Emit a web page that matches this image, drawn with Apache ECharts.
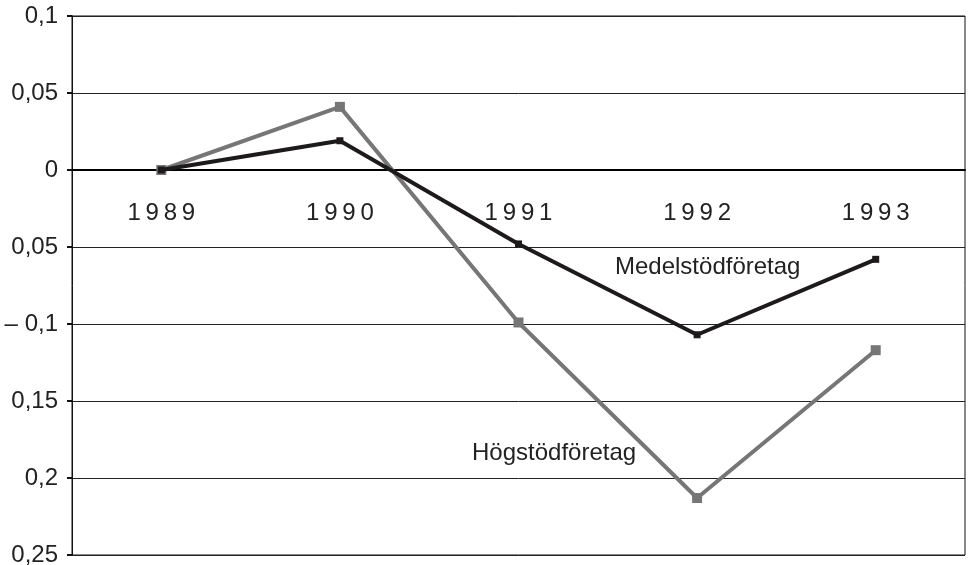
<!DOCTYPE html>
<html>
<head>
<meta charset="UTF-8" />
<title></title>
<script src="https://cdn.jsdelivr.net/npm/echarts@6/dist/echarts.min.js"></script>
<style>
  html, body { margin: 0; padding: 0; background: #fff; }
  #chart { width: 968px; height: 565px; }
</style>
</head>
<body>
<div id="chart"></div>
<script>
// data
var years = ['1989', '1990', '1991', '1992', '1993'];
var medel = [0, 0.019, -0.048, -0.107, -0.058];
var hog = [0, 0.041, -0.099, -0.213, -0.117];
var tickValues = [0.1, 0.05, 0, -0.05, -0.1, -0.15, -0.2, -0.25];
var tickLabels = ['0,1', '0,05', '0', '0,05', '\u2013 0,1', '0,15', '0,2', '0,25'];

var font = "'Liberation Sans', Arial, sans-serif";
var chart = echarts.init(document.getElementById('chart'));

chart.setOption({
  animation: false,
  grid: {
    left: 72, right: 3, top: 16, bottom: 10,
    containLabel: false,
    outerBoundsMode: 'none',
    show: true, borderColor: '#111', borderWidth: 1
  },
  xAxis: {
    type: 'category',
    data: years,
    // axis sits on the zero line; labels go just under it
    offset: -385,
    axisLine: { onZero: false, lineStyle: { color: '#000', width: 2 } },
    axisTick: { show: false },
    axisLabel: {
      margin: 31,
      fontSize: 24,
      fontFamily: font,
      color: '#222',
      formatter: function (v) { return v.split('').join('\u2009'); }
    },
    splitLine: { show: false }
  },
  yAxis: {
    type: 'value',
    min: -0.25, max: 0.1, interval: 0.05,
    axisLine: { show: true, lineStyle: { color: '#111', width: 1 } },
    axisTick: { show: true, length: 5, lineStyle: { color: '#111', width: 2 } },
    axisLabel: {
      margin: 14,
      fontSize: 24,
      fontFamily: font,
      color: '#222',
      formatter: function (v) {
        for (var i = 0; i < tickValues.length; i++) {
          if (Math.abs(tickValues[i] - v) < 1e-9) return tickLabels[i];
        }
        return '';
      }
    },
    splitLine: { show: true, lineStyle: { color: '#222', width: 1 } }
  },
  series: [
    {
      name: 'Högstödföretag',
      type: 'line',
      data: hog,
      symbol: 'rect',
      symbolSize: 10,
      lineStyle: { color: '#767676', width: 4 },
      itemStyle: { color: '#767676' },
      z: 3
    },
    {
      name: 'Medelstödföretag',
      type: 'line',
      data: medel,
      symbol: 'rect',
      symbolSize: 7,
      lineStyle: { color: '#1c1a1a', width: 4 },
      itemStyle: { color: '#1c1a1a' },
      z: 4
    }
  ],
  graphic: [
    {
      type: 'text', left: 615, top: 255,
      style: { text: 'Medelstödföretag', fontSize: 24, fontFamily: font, fill: '#222' }
    },
    {
      type: 'text', left: 472, top: 441,
      style: { text: 'Högstödföretag', fontSize: 24, fontFamily: font, fill: '#222' }
    }
  ]
});
</script>
</body>
</html>
